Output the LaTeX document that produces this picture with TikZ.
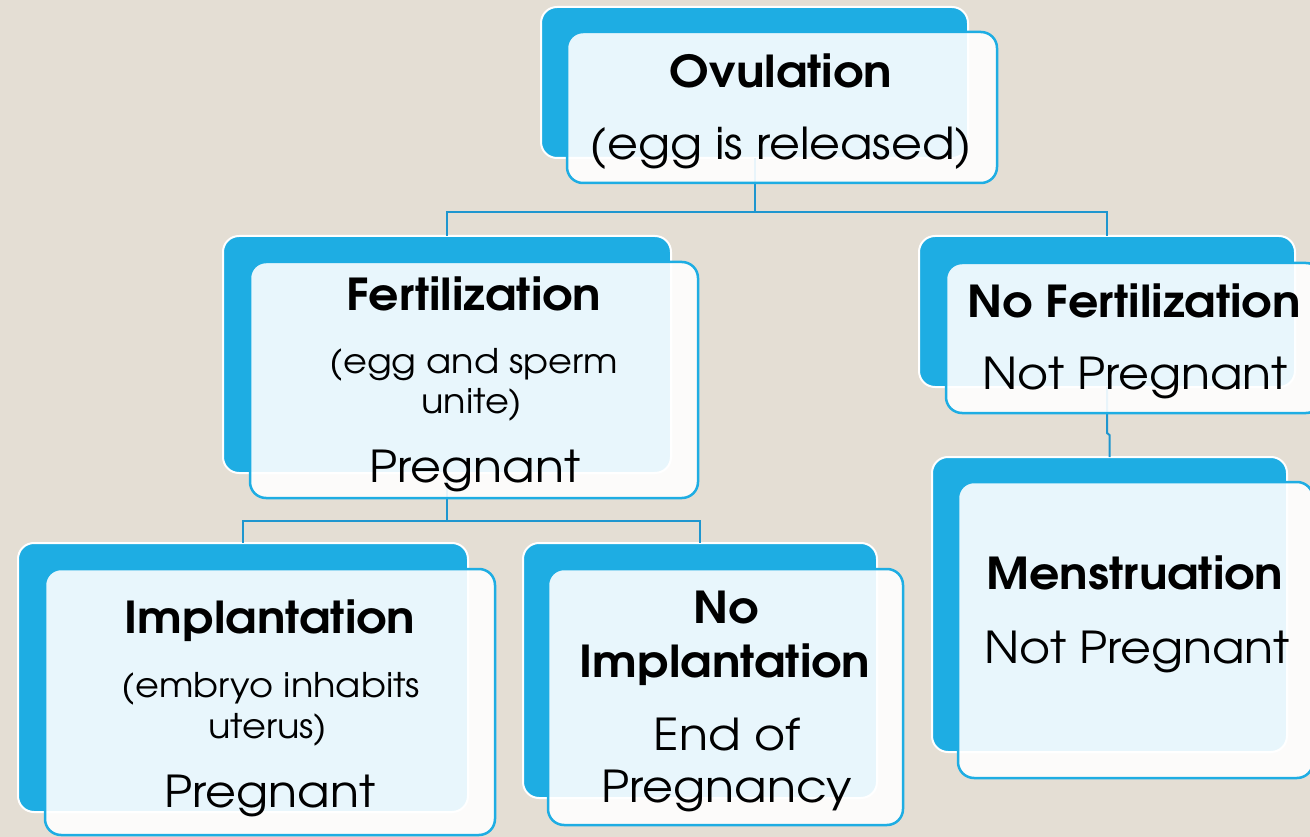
\documentclass[tikz,border=0pt]{standalone}
\usepackage{fontspec}
\setmainfont{texgyreadventor}[Extension=.otf, UprightFont=*-regular, BoldFont=*-bold, FakeStretch=1.08]
\usetikzlibrary{calc}
\definecolor{bg}{HTML}{E4DED4}
\definecolor{boxblue}{HTML}{1EADE3}
\definecolor{lineblue}{HTML}{1E96CF}
\tikzset{
 backbox/.style={draw=white, line width=2pt, fill=boxblue, rounded corners=16pt, outer sep=0pt, inner sep=0pt},
 frontbox/.style={draw=boxblue, line width=2.5pt, fill=white, fill opacity=0.9, rounded corners=16pt, outer sep=0pt, inner sep=0pt},
 conn/.style={draw=lineblue, line width=2pt},
 hd/.style={font=\fontsize{44}{50}\selectfont\bfseries, anchor=base, inner sep=0pt},
 tx/.style={font=\fontsize{44}{50}\selectfont, anchor=base, inner sep=0pt},
 sm/.style={font=\fontsize{34}{38}\selectfont, anchor=base, inner sep=0pt},
}
\begin{document}
\begin{tikzpicture}[x=1pt,y=-1pt]
\fill[bg] (0,0) rectangle (1310,837);
\useasboundingbox (0,0) rectangle (1310,837);
% back boxes
\node[backbox, minimum width=427pt, minimum height=151pt] (ovB) at (754.5,82.5) {};
\node[backbox, minimum width=448pt, minimum height=237pt] (feB) at (447,354.5) {};
\node[backbox, minimum width=376pt, minimum height=151pt] (nfB) at (1107,311.5) {};
\node[backbox, minimum width=450pt, minimum height=269pt] (imB) at (243,677.5) {};
\node[backbox, minimum width=354pt, minimum height=255pt] (niB) at (700,670.5) {};
\node[backbox, minimum width=355pt, minimum height=295pt] (meB) at (1109.5,604.5) {};
% connectors
\coordinate (j1) at (754.5,212);
\coordinate (j2) at (447,521);
\coordinate (j3a) at (1107,433);
\coordinate (j3b) at (1109.5,435);
\draw[conn] (ovB.south) -- (j1) -| (feB.north);
\draw[conn] (j1) -| (nfB.north);
\draw[conn] (feB.south) -- (j2) -| (imB.north);
\draw[conn] (j2) -| (niB.north);
\draw[conn] (nfB.south) -- (j3a) -- (j3b) -- (meB.north);
% front boxes
\node[frontbox, minimum width=430pt, minimum height=151pt] (ovF) at (782,107.5) {};
\node[frontbox, minimum width=448pt, minimum height=236pt] (feF) at (474,380) {};
\node[frontbox, minimum width=376pt, minimum height=150pt] (nfF) at (1134,338) {};
\node[frontbox, minimum width=450pt, minimum height=266pt] (imF) at (270,702) {};
\node[frontbox, minimum width=355pt, minimum height=256pt] (niF) at (725.5,697) {};
\node[frontbox, minimum width=355pt, minimum height=296pt] (meF) at (1135.5,630) {};
% texts
\node[hd] (t1) at (781,88) {Ovulation};
\node[tx] (t2) at (781,160) {(egg is released)};
\node[hd] (t3) at (474,310) {Fertilization};
\node[sm] (t4) at (474,373) {(egg and sperm};
\node[sm] (t5) at (472,413) {unite)};
\node[tx] (t6) at (475,482) {Pregnant};
\node[hd] (t7) at (1134,317) {No Fertilization};
\node[tx] (t8) at (1135,389) {Not Pregnant};
\node[hd] (t9) at (270,633) {Implantation};
\node[sm] (t10) at (271,697) {(embryo inhabits};
\node[sm] (t11) at (268,738) {uterus)};
\node[tx] (t12) at (270,807) {Pregnant};
\node[hd] (t13) at (726,623) {No};
\node[hd] (t14) at (725,677) {Implantation};
\node[tx] (t15) at (727,750) {End of};
\node[tx] (t16) at (727,802) {Pregnancy};
\node[hd] (t17) at (1135,589) {Menstruation};
\node[tx] (t18) at (1137,663) {Not Pregnant};
\end{tikzpicture}
\end{document}
